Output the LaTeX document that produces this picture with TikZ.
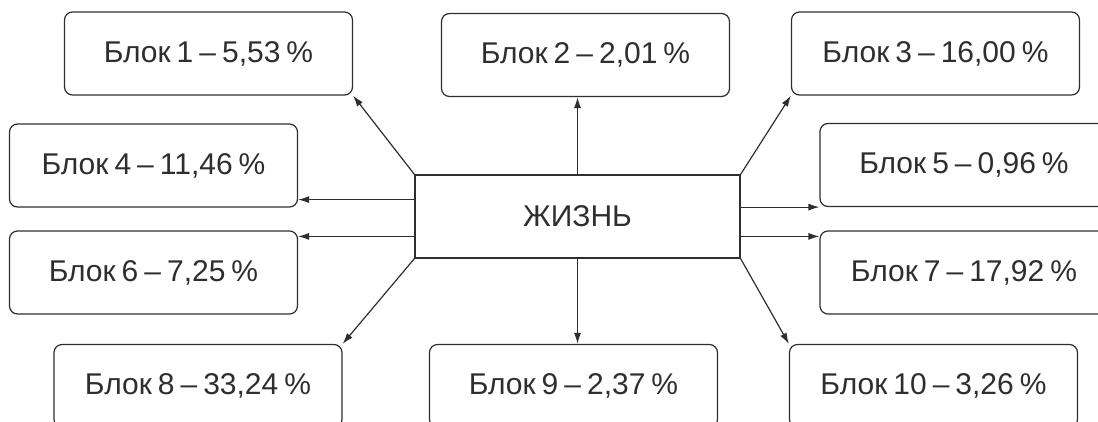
\documentclass[tikz,border=0pt]{standalone}
\usepackage{fontspec}
\setmainfont{Liberation Sans}
\usetikzlibrary{arrows.meta}

\definecolor{ink}{gray}{0.18}
\newcommand\blockfont{\fontsize{30}{34}\selectfont\spaceskip=0.2em\relax}
\tikzstyle{block}=[rectangle,rounded corners=8pt,draw=ink,line width=1.2pt,minimum width=288pt,minimum height=83pt,text=ink,font=\blockfont]
\tikzstyle{core}=[block,sharp corners,minimum width=325pt]

\begin{document}
\begin{tikzpicture}[x=1pt,y=-1pt,>={Latex[length=11pt,width=7pt]},line width=1.2pt]
  \useasboundingbox (0,0) rectangle (1098,421);
  \node (life) [core] at (577.5,216.5) {ЖИЗНЬ};
  \node (b1) [block] at (208.5,53.5) {Блок 1 – 5,53 \%};
  \node (b2) [block] at (585.5,55) {Блок 2 – 2,01 \%};
  \node (b3) [block] at (935.5,53.5) {Блок 3 – 16,00 \%};
  \node (b4) [block] at (153.5,165.5) {Блок 4 – 11,46 \%};
  \node (b5) [block] at (964,165) {Блок 5 – 0,96 \%};
  \node (b6) [block] at (153.5,272.5) {Блок 6 – 7,25 \%};
  \node (b7) [block] at (964,272.5) {Блок 7 – 17,92 \%};
  \node (b8) [block] at (198,386) {Блок 8 – 33,24 \%};
  \node (b9) [block] at (573.5,386) {Блок 9 – 2,37 \%};
  \node (b10) [block] at (933.5,386) {Блок 10 – 3,26 \%};
  \coordinate (p4) at ([yshift=8pt]b4.south east);
  \coordinate (p6) at ([yshift=-6pt]b6.north east);
  \coordinate (p7) at ([yshift=-6pt]b7.north west);
  \path[->,ink]
  (life.north west) edge (b1.south east)
  (life.north) edge (life.north |- b2.south)
  (life.north east) edge (b3.south west)
  (p4 -| life.west) edge (p4)
  (b5.south west -| life.east) edge (b5.south west)
  (p6 -| life.west) edge (p6)
  (p7 -| life.east) edge (p7)
  (life.south west) edge (b8.north east)
  (life.south) edge (life.south |- b9.north)
  (life.south east) edge (b10.north west);
\end{tikzpicture}
\end{document}
